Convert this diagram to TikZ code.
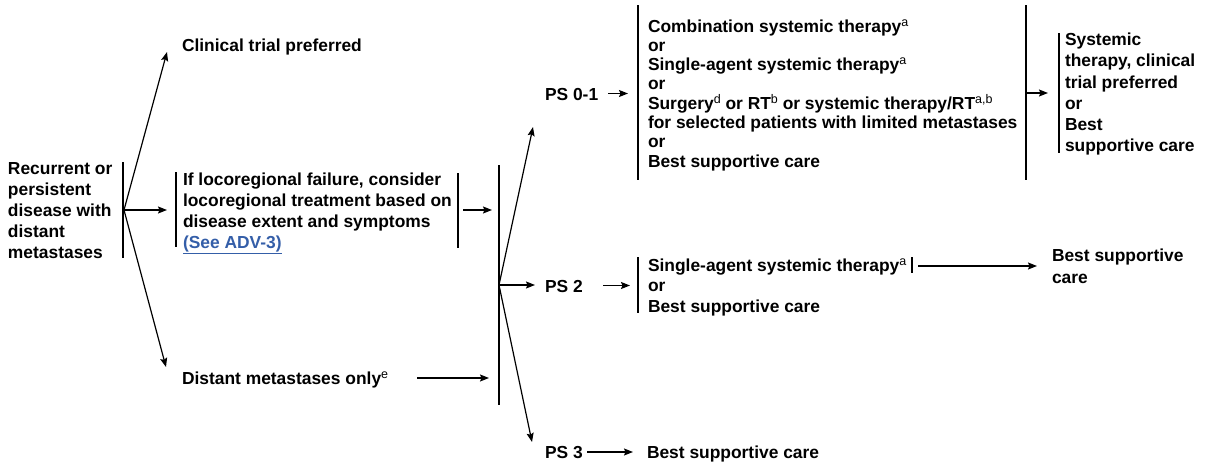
\documentclass[tikz,border=0pt]{standalone}
\usepackage{fontspec}
\setmainfont{Liberation Sans}
\usetikzlibrary{arrows.meta}
\definecolor{linkblue}{RGB}{52,94,168}
% footnote marks: light, raised, a bit larger than the default superscript
\newcommand{\sups}[1]{\raisebox{6pt}{\fontsize{12.5}{12.5}\selectfont\mdseries #1}}
\begin{document}
\begin{tikzpicture}[x=1pt,y=-1pt,
  % text blocks are placed by the baseline of their last line
  txt/.style={anchor=base west, inner sep=0pt, outer sep=0pt, align=left,
              font=\fontsize{17.4}{#1}\selectfont\bfseries},
  txt/.default=21,
  bar/.style={line width=1.3pt},
  arr/.style={line width=1.2pt, -{Stealth[length=9pt,width=7pt,inset=1.5pt]}}]
\useasboundingbox (0,0) rectangle (1211,463);

% ---- text blocks ----
\node[txt] (start) at (8,258) {Recurrent or\\persistent\\disease with\\distant\\metastases};
\node[txt] (trial) at (182,51.5) {Clinical trial preferred};
\node[txt] (loco) at (183,248) {If locoregional failure, consider\\locoregional treatment based on\\disease extent and symptoms\\\textcolor{linkblue}{\underline{(See ADV-3)}}};
\node[txt] (distant) at (182,384) {Distant metastases only\sups{e}};
\node[txt] (ps01) at (545,100) {PS 0-1};
\node[txt] (ps2) at (545,292) {PS 2};
\node[txt] (ps3) at (545,458) {PS 3};
\node[txt=19.3] (opt01) at (648,167.1) {Combination systemic therapy\sups{a}\\or\\Single-agent systemic therapy\sups{a}\\or\\Surgery\sups{d} or RT\sups{b} or systemic therapy/RT\sups{a,b}\\for selected patients with limited metastases\\or\\Best supportive care};
\node[txt=21.2] (next01) at (1065,151.7) {Systemic\\therapy, clinical\\trial preferred\\or\\Best\\supportive care};
\node[txt=20.5] (opt2) at (648,312) {Single-agent systemic therapy\sups{a}\\or\\Best supportive care};
\node[txt=21.3] (next2) at (1052,283) {Best supportive\\care};
\node[txt] (bsc3) at (647,458) {Best supportive care};

% ---- bracket bars ----
\coordinate (startbar-t) at (123,162);  \coordinate (startbar-b) at (123,258);
\coordinate (locoL-t) at (176,172);     \coordinate (locoL-b) at (176,247);
\coordinate (locoR-t) at (458,173);     \coordinate (locoR-b) at (458,248);
\coordinate (join-t) at (499,165);      \coordinate (join-b) at (499,405);
\coordinate (opt01L-t) at (638,5);      \coordinate (opt01L-b) at (638,180);
\coordinate (opt01R-t) at (1026,5);     \coordinate (opt01R-b) at (1026,180);
\coordinate (next01L-t) at (1059,33);   \coordinate (next01L-b) at (1059,153);
\coordinate (opt2L-t) at (638,257);     \coordinate (opt2L-b) at (638,313);
\coordinate (opt2R-t) at (912,257);     \coordinate (opt2R-b) at (912,273);
\foreach \b in {startbar,locoL,locoR,join,opt01L,opt01R,next01L,opt2L,opt2R}
  \draw[bar] (\b-t) -- (\b-b);

% ---- branch points and arrow ends ----
\coordinate (fork1) at (124,210);
\coordinate (trial-in) at (167,52);
\coordinate (loco-in) at (167,210);
\coordinate (distant-in) at (166,367);
\coordinate (loco-out) at (463,210);
\coordinate (join-in1) at (492,210);
\coordinate (distant-out) at (417,378);
\coordinate (join-in2) at (489,378);
\coordinate (fork2) at (499,285);
\coordinate (ps01-in) at (533,127);
\coordinate (ps2-in) at (535,285);
\coordinate (ps3-in) at (532,442);
\coordinate (ps01-out) at (608,93.5);
\coordinate (opt01-in) at (628,93.5);
\coordinate (opt01-out) at (1026,93);
\coordinate (next01-in) at (1048,93);
\coordinate (ps2-out) at (603,285.5);
\coordinate (opt2-in) at (630,285.5);
\coordinate (opt2-out) at (918,266);
\coordinate (next2-in) at (1037,266);
\coordinate (ps3-out) at (587,452);
\coordinate (bsc3-in) at (633,452);

% ---- connectors ----
\draw[arr] (fork1) -- (trial-in);
\draw[arr] (fork1) -- (loco-in);
\draw[arr] (fork1) -- (distant-in);
\draw[arr] (loco-out) -- (join-in1);
\draw[arr] (distant-out) -- (join-in2);
\draw[arr] (fork2) -- (ps01-in);
\draw[arr] (fork2) -- (ps2-in);
\draw[arr] (fork2) -- (ps3-in);
\draw[arr] (ps01-out) -- (opt01-in);
\draw[arr] (opt01-out) -- (next01-in);
\draw[arr] (ps2-out) -- (opt2-in);
\draw[arr] (opt2-out) -- (next2-in);
\draw[arr] (ps3-out) -- (bsc3-in);
\end{tikzpicture}
\end{document}
